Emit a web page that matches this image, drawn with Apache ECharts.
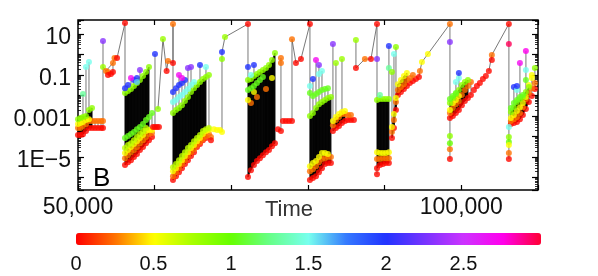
<!DOCTYPE html>
<html><head><meta charset="utf-8">
<script src="https://cdn.jsdelivr.net/npm/echarts@6/dist/echarts.min.js"></script>
<style>html,body{margin:0;padding:0;background:#fff}#c{width:598px;height:276px}</style>
</head><body><div id="c"></div><script>
// ---------- data (time, value; colour value 0..3) ----------
const cA_time   = [50000, 50330, 50650, 51040, 51430, 51830, 52220, 52610, 53000];
const cA_red    = [1.2e-4, 1.2e-4, 1.3e-4, 1.85e-4, 2.6e-4, 2.6e-4, 2.6e-4, 2.6e-4, 2.6e-4];
const cA_orange = [2.6e-4, 2.6e-4, 3.25e-4, 4.1e-4, 5.7e-4, 5.7e-4, 5.7e-4, 5.7e-4, 5.7e-4];
const cA_yellow = [4.1e-4, 4.6e-4, 5.1e-4, 6.4e-4, 7.1e-4, null, null, null, null];
const cA_lime   = [7.1e-4, 8.0e-4, 8.9e-4, 1.0e-3, 1.96e-3, 2.5e-3, null, null, null];

const cB_time   = [56130, 56520, 56910, 57300, 57690, 58080, 58480, 58870, 59260, 59650];
const cB_red    = [4.1e-6, 5.7e-6, 7.1e-6, 1.0e-5, 1.4e-5, 2.2e-5, 3.1e-5, 4.8e-5, 6.7e-5, 9.5e-5];
const cB_orange = [8.9e-6, 1.25e-5, 1.75e-5, 2.2e-5, 3.1e-5, 4.8e-5, 6.7e-5, 9.5e-5, 1.32e-4, 1.48e-4];
const cB_yellow = [1.57e-5, 2.2e-5, 3.1e-5, 4.3e-5, 6.0e-5, 8.5e-5, 1.18e-4, 1.85e-4, 2.07e-4, 2.07e-4];
const cB_ylime  = [2.75e-5, 3.85e-5, 4.8e-5, 6.7e-5, 9.5e-5, 1.32e-4, 1.85e-4, 2.6e-4, null, null];
const cB_green  = [8.5e-5, 1.06e-4, 1.32e-4, 1.66e-4, 2.3e-4, 2.9e-4, 4.1e-4, 6.4e-4, 8.9e-4, 1.4e-3];
const cB_lime   = [0.0132, 0.0166, 0.0207, 0.029, 0.041, 0.057, 0.089, 0.14, 0.245, null];
const cB_blue   = [0.023, 0.0325, null, 0.057, 0.071, null, null, null, null, null];

const cC_time   = [62390, 62780, 63170, 63560, 63950, 64340, 64740, 65130, 65520, 65910, 66300, 66690, 67080];
const cC_red    = [7.6e-7, 1.18e-6, 1.85e-6, 2.9e-6, 4.6e-6, 7.1e-6, 1.12e-5, 1.75e-5, 3.1e-5, 4.3e-5, 6.7e-5, 8.5e-5, null];
const cC_orange = [1.18e-6, 1.85e-6, 2.9e-6, 4.6e-6, 7.1e-6, 1.12e-5, 1.75e-5, 2.45e-5, 3.85e-5, 5.4e-5, 7.6e-5, 1.06e-4, 1.32e-4];
const cC_yellow = [2.07e-6, 2.9e-6, 4.6e-6, 7.1e-6, 1.12e-5, 1.75e-5, 2.75e-5, 3.85e-5, 6.0e-5, 8.5e-5, 1.32e-4, 1.85e-4, 2.07e-4];
const cC_ylime  = [3.25e-6, 4.6e-6, 7.1e-6, 1.12e-5, 1.75e-5, 2.75e-5, 3.85e-5, 6.0e-5, 8.5e-5, 1.18e-4, 1.85e-4, 2.3e-4, 2.6e-4];
const cC_lime   = [0.0014, 0.00196, 0.0025, 0.0034, 0.0054, 0.0085, 0.0148, 0.023, 0.0325, 0.046, 0.064, 0.08, 0.1];
const cC_cyan   = [0.0048, 0.006, 0.0085, 0.0106, 0.0148, 0.0207, 0.0325, 0.046, null, null, null, null, null];
const cC_blue   = [0.0148, 0.023, 0.0325, 0.041, 0.057, null, null, null, null, null, null, null, null];

const cD_time   = [72170, 72560, 72950, 73340, 73730, 74120, 74520, 74910, 75300, 75690];
const cD_red    = [1.06e-6, 2.3e-6, 4.1e-6, 6.4e-6, 8.9e-6, 1.25e-5, 1.75e-5, 2.2e-5, 3.4e-5, 4.8e-5];
const cD_lime   = [0.057, 0.064, 0.089, 0.112, 0.14, 0.175, 0.22, 0.31, 0.54, 1.18];
const cD_green  = [0.0185, 0.023, 0.029, 0.041, 0.057, 0.08, null, null, null, null];
const cD_yellow = [0.006, null, 0.0148, null, null, null, null, null, 0.071, null];
const cD_orange = [null, 0.0043, null, 0.0085, null, null, 0.0207, null, null, null];
const cD_cyan   = [null, 0.1, null, null, null, null, null, null, null, null];
const cD_blue   = [0.245, null, 0.31, null, null, null, null, null, null, null];

const cE_time   = [80250, 80640, 81040, 81430, 81820, 82210, 82600, 82990];
const cE_red    = [7.6e-7, 9.5e-7, 1.18e-6, 1.85e-6, 2.9e-6, 4.6e-6, 5.1e-6, 5.1e-6];
const cE_orange = [2.07e-6, 2.6e-6, 3.6e-6, 5.7e-6, 8.0e-6, 8.9e-6, 1.0e-5, 1.0e-5];
const cE_yellow = [3.6e-6, 5.1e-6, 6.4e-6, 1.0e-5, 1.57e-5, 1.57e-5, 1.4e-5, null];
const cE_lime   = [0.001, 0.0014, 0.0025, 0.0038, 0.0048, 0.006, 0.0076, 0.0085];
const cE_green  = [0.0132, 0.0095, 0.0118, 0.0148, 0.0185, 0.0207, 0.023, null];

const cE2_time   = [83250, 83640, 84040, 84430, 84820, 85210, 85600, 85990];
const cE2_red    = [1.85e-4, 2.6e-4, 3.25e-4, 4.6e-4, 5.7e-4, 6.4e-4, 6.4e-4, 6.4e-4];
const cE2_orange = [3.6e-4, 6.4e-4, 8.9e-4, 1.25e-3, 1.25e-3, 1.12e-3, 1.12e-3, null];
const cE2_yellow = [5.7e-4, 8.9e-4, 1.25e-3, 1.57e-3, 1.75e-3, null, null, null];

const cF_time   = [89000, 89380, 89770, 90160, 90550];
const cF_red    = [2.9e-6, 4.1e-6, 4.6e-6, 5.1e-6, 5.1e-6];
const cF_orange = [8.0e-6, 8.0e-6, 8.9e-6, 8.9e-6, 8.9e-6];
const cF_yellow = [1.75e-5, 1.57e-5, 1.57e-5, 1.57e-5, 1.75e-5];
const cF_lime   = [0.006, 0.0067, 0.0067, 0.0067, 0.0067];

const cF2_time   = [90950, 91210, 91470, 91730, 92120, 92510, 92900, 93290, 93680, 94080, 94470];
const cF2_red    = [8.5e-5, 2.6e-4, 1.96e-3, 0.0106, 0.0148, 0.0207, 0.029, 0.041, 0.051, 0.064, 0.08];
const cF2_orange = [1.66e-4, 6.4e-4, 4.8e-3, 0.0185, 0.026, 0.036, 0.057, 0.071, 0.1, null, null];
const cF2_yellow = [2.9e-4, 1.25e-3, 7.6e-3, 0.036, 0.057, 0.089, 0.125, null, null, null, null];

const cG_time   = [98510, 98900, 99290, 99680, 100070, 100460, 100860, 101250, 101640, 102030, 102420, 102810, 103200, 103590];
const cG_red    = [8.0e-4, 1.0e-3, 1.4e-3, 1.96e-3, 3.4e-3, 5.4e-3, 7.6e-3, 0.0106, 0.0185, 0.029, 0.041, 0.064, 0.089, 0.157];
const cG_orange = [1.4e-3, 2.5e-3, 3.8e-3, 5.4e-3, 0.0106, 0.0185, 0.029, 0.046, null, null, null, null, null, null];
const cG_yellow = [1.96e-3, 4.3e-3, 6.0e-3, 9.5e-3, null, null, null, null, null, null, null, null, null, null];
const cG_lime   = [4.3e-3, 7.6e-3, 0.0118, 0.0185, 0.0325, 0.046, 0.057, null, null, null, null, null, null, null];
const cG_green  = [6.7e-3, 9.5e-3, 0.0132, null, null, null, null, null, null, null, null, null, null, null];

const cH_time   = [106460, 106850, 107250, 107640, 108030, 108420, 108810, 109200, 109590];
const cH_red    = [4.1e-4, 4.6e-4, 5.1e-4, 7.1e-4, 1.12e-3, 2.2e-3, 4.8e-3, 9.5e-3, 0.0207];
const cH_orange = [5.7e-4, 7.1e-4, 8.9e-4, 1.4e-3, 2.7e-3, 6.7e-3, 0.0132, 0.023, 0.041];
const cH_yellow = [8.0e-4, 1.12e-3, 1.75e-3, 2.7e-3, 4.3e-3, 8.5e-3, 0.0325, 0.071, null];
const cH_lime   = [1.57e-3, 2.7e-3, 4.8e-3, 6.7e-3, 8.5e-3, 0.0148, 0.026, null, 0.22];
const cH_green  = [2.5e-3, 4.3e-3, 6.0e-3, 8.5e-3, 0.0106, 0.057, null, null, null];

// isolated points: [time, value, colour value]
const sparsePoints = [
  [50650, 0.0118, 1.3], [51040, 0.245, 1.5], [51430, 0.43, 1.5],
  [53260, 4.56, 2.3], [53260, 0.245, 0.8], [53260, 5.7e-4, 0.25], [53260, 2.6e-4, 0.02],
  [53650, 0.157, 0.25], [53910, 0.14, 0.25], [53910, 0.1, 0.02], [54300, 0.112, 0.02],
  [54560, 0.385, 0.25], [54560, 0.14, 0.02], [54760, 0.67, 0.25], [55090, 0.67, 0.02],
  [56130, 34.4, 0.02],
  [56910, 0.071, 2.7], [58080, 0.175, 2.3], [57690, 0.046, 1.6],
  [59780, 2.9e-4, 0.02], [60040, 2.9e-4, 0.02], [60040, 1.06, 2.0], [60300, 2.9e-4, 0.02], [60560, 2.9e-4, 0.02],
  [60430, 0.0022, 0.85], [61080, 5.7, 0.8], [61560, 0.157, 0.02], [61740, 0.48, 0.25],
  [62390, 0.385, 0.02], [62390, 30.8, 0.25],
  [63170, 0.1, 2.7], [63560, 0.071, 2.7], [64340, 0.22, 2.3], [64740, 0.245, 2.3],
  [65910, 0.31, 2.0], [66690, 0.245, 1.5],
  [67340, 9.5e-5, 0.25], [67340, 6.7e-5, 0.02], [67730, 2.3e-4, 0.5], [68130, 2.07e-4, 0.5], [68520, 2.07e-4, 0.5],
  [68780, 1.66e-4, 0.5], [68780, 1.32, 2.0], [68780, 0.6, 0.85], [69170, 7.1, 0.8],
  [72170, 30.8, 0.02],
  [76080, 2.3e-4, 0.02], [76470, 0.67, 0.25], [76470, 0.385, 0.25], [76470, 1.85e-4, 0.02],
  [76730, 5.7e-4, 0.02], [77120, 5.7e-4, 0.02], [77510, 5.7e-4, 0.02], [77910, 5.7e-4, 0.02], [77910, 5.5, 0.25],
  [78430, 0.385, 0.02], [79080, 0.6, 0.02],
  [80250, 30.8, 0.02], [80250, 0.029, 1.5], [80640, 0.064, 2.0], [81040, 0.54, 2.7], [81430, 0.31, 2.3],
  [81430, 0.112, 1.5], [81820, 0.157, 1.5],
  [83250, 3.25, 2.3], [83640, 0.385, 0.8], [84430, 0.6, 0.8], [86250, 5.1, 0.8], [86250, 0.22, 0.02],
  [87420, 0.6, 0.25], [88210, 0.6, 0.02],
  [89000, 30.8, 0.02], [89000, 0.6, 2.3], [89000, 1.48e-6, 0.02], [89380, 0.0106, 1.3],
  [90550, 2.6, 2.0], [90550, 0.22, 1.3], [90950, 0.14, 0.85], [91210, 1.06, 1.5], [91470, 2.3, 0.85],
  [94600, 0.157, 0.25], [94860, 0.43, 0.5], [95640, 1.06, 0.5],
  [98510, 30.8, 0.25], [98510, 4.07, 2.3], [98510, 1.06e-4, 0.85], [98510, 4.8e-5, 1.0], [98510, 2.45e-5, 0.25], [98510, 8.0e-6, 0.02],
  [99290, 0.046, 1.5], [99680, 0.071, 1.5], [99680, 0.125, 2.0],
  [103980, 0.95, 0.25], [103980, 0.54, 0.02],
  [106200, 30.8, 0.02], [106200, 3.25, 2.95], [106200, 2.9e-4, 1.5], [106200, 9.5e-5, 0.85], [106200, 5.4e-5, 1.0],
  [106200, 3.85e-5, 0.5], [106200, 1.57e-5, 0.25], [106200, 8.0e-6, 0.02],
  [106850, 0.026, 2.0], [107250, 0.0185, 1.5], [107250, 0.029, 2.0], [107640, 0.385, 2.7],
  [108420, 1.48, 2.75], [108420, 0.175, 1.5], [109200, 0.1, 0.5]
];

// thin lines joining the highest points between bursts
const trailA = [[53260, 0.245], [53650, 0.157], [54560, 0.385], [54760, 0.67], [55090, 0.67], [56130, 34.4]];
const trailB = [[60430, 0.0022], [61080, 5.7], [61560, 0.157], [61740, 0.48], [62390, 0.385], [62390, 30.8]];
const trailC = [[68780, 1.32], [69170, 7.1], [72170, 30.8]];
const trailD = [[77910, 5.5], [78430, 0.385], [79080, 0.6], [80250, 30.8]];
const trailE = [[86250, 0.22], [87420, 0.6], [88210, 0.6], [89000, 30.8]];
const trailF = [[94470, 0.08], [94600, 0.157], [94860, 0.43], [95640, 1.06], [98510, 30.8]];
const trailG = [[103590, 0.157], [103980, 0.95], [106200, 30.8]];

const xTickLabels = {50000: '50,000', 100000: '100,000'};
const yTickLabels = {'1': '10', '-1': '0.1', '-3': '0.001', '-5': '1E\u22125'};
const colorbarTicks = [0, 0.5, 1, 1.5, 2, 2.5];

// colour value of each band
const bandColor = {red: 0.02, orange: 0.25, yellow: 0.5, ylime: 0.68, lime: 0.85, green: 1.05, cyan: 1.5, blue: 2.0};

// ---------- build ----------
const clusters = [
  {time: cA_time, bands: {red: cA_red, orange: cA_orange, yellow: cA_yellow, lime: cA_lime}, fillTop: 'lime'},
  {time: cB_time, bands: {red: cB_red, orange: cB_orange, yellow: cB_yellow, ylime: cB_ylime, green: cB_green, lime: cB_lime, blue: cB_blue}, fillTop: 'lime'},
  {time: cC_time, bands: {red: cC_red, orange: cC_orange, yellow: cC_yellow, ylime: cC_ylime, lime: cC_lime, cyan: cC_cyan, blue: cC_blue}, fillTop: 'lime'},
  {time: cD_time, bands: {red: cD_red, orange: cD_orange, yellow: cD_yellow, green: cD_green, lime: cD_lime, cyan: cD_cyan, blue: cD_blue}, fillTop: 'lime'},
  {time: cE_time, bands: {red: cE_red, orange: cE_orange, yellow: cE_yellow, lime: cE_lime, green: cE_green}, fillTop: 'lime'},
  {time: cE2_time, bands: {red: cE2_red, orange: cE2_orange, yellow: cE2_yellow}, fillTop: 'yellow'},
  {time: cF_time, bands: {red: cF_red, orange: cF_orange, yellow: cF_yellow, lime: cF_lime}, fillTop: 'lime'},
  {time: cF2_time, bands: {red: cF2_red, orange: cF2_orange, yellow: cF2_yellow}, fillTop: 'yellow'},
  {time: cG_time, bands: {red: cG_red, orange: cG_orange, yellow: cG_yellow, lime: cG_lime, green: cG_green}, fillTop: 'lime'},
  {time: cH_time, bands: {red: cH_red, orange: cH_orange, yellow: cH_yellow, lime: cH_lime, green: cH_green}, fillTop: 'lime'}
];

const points = [];
clusters.forEach(c => {
  Object.keys(c.bands).forEach(b => {
    c.bands[b].forEach((v, i) => { if (v != null) points.push([c.time[i], v, bandColor[b]]); });
  });
});
sparsePoints.forEach(p => points.push(p));

const range = new Map();
points.forEach(p => {
  const r = range.get(p[0]);
  if (!r) range.set(p[0], [p[1], p[1]]);
  else { r[0] = Math.min(r[0], p[1]); r[1] = Math.max(r[1], p[1]); }
});
const stems = [];
range.forEach((r, t) => { if (r[1] > r[0]) stems.push([t, r[0], r[1]]); });

const fills = [];
clusters.forEach(c => {
  const top = c.bands[c.fillTop], bot = c.bands.red;
  for (let i = 0; i < c.time.length - 1; i++) {
    if (top[i] != null && top[i + 1] != null && bot[i] != null && bot[i + 1] != null)
      fills.push([c.time[i], c.time[i + 1], top[i], top[i + 1], bot[i], bot[i + 1]]);
  }
});

const FONT = 'Liberation Sans, Arial, sans-serif';
const trails = [trailA, trailB, trailC, trailD, trailE, trailF, trailG];

const series = [
  {
    type: 'custom', xAxisIndex: 0, yAxisIndex: 0, silent: true, z: 1,
    data: fills, encode: {x: [0, 1], y: [2, 3, 4, 5]},
    renderItem: (params, api) => {
      const a = api.coord([api.value(0), api.value(2)]);
      const b = api.coord([api.value(1), api.value(3)]);
      const c = api.coord([api.value(1), api.value(5)]);
      const d = api.coord([api.value(0), api.value(4)]);
      return {type: 'polygon', shape: {points: [a, b, c, d]}, style: {fill: '#050505', stroke: '#050505', lineWidth: 0.6}};
    }
  },
  {
    type: 'custom', xAxisIndex: 0, yAxisIndex: 0, silent: true, z: 2,
    data: stems, encode: {x: 0, y: [1, 2]},
    renderItem: (params, api) => {
      const a = api.coord([api.value(0), api.value(1)]);
      const b = api.coord([api.value(0), api.value(2)]);
      return {type: 'line', shape: {x1: a[0], y1: a[1], x2: b[0], y2: b[1]}, style: {stroke: 'rgba(0,0,0,0.38)', lineWidth: 1.4}};
    }
  }
];
trails.forEach(tr => series.push({
  type: 'line', xAxisIndex: 0, yAxisIndex: 0, data: tr, symbol: 'none', silent: true, z: 3,
  lineStyle: {color: '#555', width: 0.8}
}));
const scatterIndex = series.length;
series.push({
  type: 'scatter', xAxisIndex: 0, yAxisIndex: 0, data: points, symbolSize: 6, z: 4, silent: true,
  encode: {x: 0, y: 1}
});

const yLabel = v => {
  const e = Math.log10(v);
  const k = Math.round(e);
  if (Math.abs(e - k) > 1e-6) return '';
  const s = yTickLabels[String(k)];
  return s ? '{t|' + s + '}' : '';
};

const option = {
  animation: false,
  backgroundColor: '#fff',
  grid: [
    {left: 78, top: 20, width: 460, height: 170, show: true, borderColor: '#000', borderWidth: 1.5, backgroundColor: 'transparent'},
    {left: 76, top: 233, width: 465, height: 12, show: false}
  ],
  xAxis: [
    {gridIndex: 0, type: 'value', min: 50000, max: 110000, interval: 10000, position: 'bottom',
     axisLine: {show: false}, splitLine: {show: false},
     axisTick: {inside: true, length: 5, lineStyle: {color: '#000', width: 1.2}},
     axisLabel: {formatter: v => xTickLabels[v] || '', fontSize: 23, color: '#111', margin: 6, fontFamily: FONT}},
    {gridIndex: 0, type: 'value', min: 50000, max: 110000, interval: 10000, position: 'top',
     axisLine: {show: false}, splitLine: {show: false}, axisLabel: {show: false},
     axisTick: {inside: true, length: 5, lineStyle: {color: '#000', width: 1.2}}},
    {gridIndex: 1, type: 'value', min: 0, max: 3, interval: 0.5, position: 'bottom',
     axisLine: {show: false}, splitLine: {show: false}, axisTick: {show: false},
     axisLabel: {formatter: v => colorbarTicks.indexOf(v) >= 0 ? String(v) : '', fontSize: 20, color: '#111', margin: 9, fontFamily: FONT}}
  ],
  yAxis: [
    {gridIndex: 0, type: 'log', logBase: 10, min: 2.5e-7, max: 48, position: 'left',
     axisLine: {show: false}, splitLine: {show: false},
     axisTick: {inside: true, length: 6, lineStyle: {color: '#000', width: 1.2}},
     minorTick: {show: true, splitNumber: 9, length: 3, lineStyle: {color: '#000', width: 0.8}},
     axisLabel: {formatter: yLabel, margin: 7,
                 rich: {t: {fontSize: 23, color: '#111', fontFamily: FONT, padding: [7, 0, 0, 0]}}}},
    {gridIndex: 0, type: 'log', logBase: 10, min: 2.5e-7, max: 48, position: 'right',
     axisLine: {show: false}, splitLine: {show: false}, axisLabel: {show: false},
     axisTick: {inside: true, length: 6, lineStyle: {color: '#000', width: 1.2}},
     minorTick: {show: true, splitNumber: 9, length: 3, lineStyle: {color: '#000', width: 0.8}}},
    {gridIndex: 1, type: 'value', min: 0, max: 1, show: false}
  ],
  visualMap: {
    type: 'continuous', min: 0, max: 3, dimension: 2, seriesIndex: scatterIndex,
    orient: 'horizontal', left: 76, top: 233, itemWidth: 12, itemHeight: 465, padding: 0,
    calculable: false, hoverLink: false,
    inRange: {color: ['#ff0000', '#ff7000', '#ffff00', '#a8ff00', '#66ff00', '#66ff88', '#77ffee',
                      '#3377ff', '#2233ff', '#7733ff', '#cc33ff', '#ff00ee', '#ff0033']}
  },
  graphic: [
    {type: 'text', left: 93, top: 166, style: {text: 'B', fontSize: 26, fill: '#000', fontFamily: FONT}},
    {type: 'text', left: 265, top: 199, style: {text: 'Time', fontSize: 22, fill: '#333', fontFamily: FONT}}
  ],
  series: series
};
echarts.init(document.getElementById('c'), null, {renderer: 'canvas'}).setOption(option);
</script></body></html>
